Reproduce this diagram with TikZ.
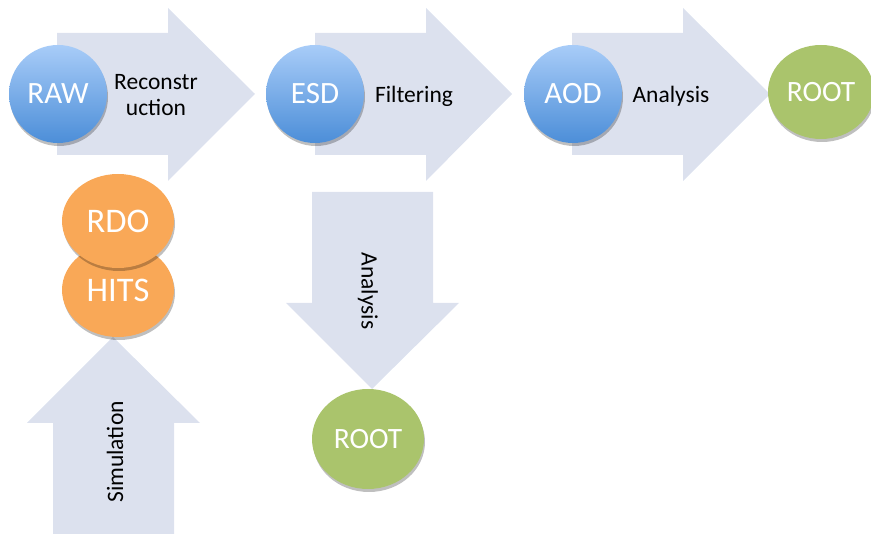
\documentclass[tikz,border=0pt]{standalone}
\usepackage{fontspec}
\setmainfont{Carlito}
\usetikzlibrary{shapes.geometric,shadows}
\definecolor{arrowfill}{RGB}{220,225,238}
\definecolor{blueTop}{RGB}{168,204,248}
\definecolor{blueBot}{RGB}{76,142,216}
\definecolor{orangeFill}{RGB}{249,168,87}
\definecolor{greenFill}{RGB}{170,196,108}
\tikzset{
  bigarrow/.style={fill=arrowfill, draw=none},
  blob/.style={ellipse, draw=none, inner sep=0pt, text=white,
    drop shadow={shadow xshift=1pt, shadow yshift=-3pt, opacity=0.25, fill=black}},
  bluedisc/.style={blob, top color=blueTop, bottom color=blueBot,
    minimum width=98pt, minimum height=98pt, font=\fontsize{31}{31}\selectfont},
  orangedisc/.style={blob, fill=orangeFill, minimum width=112pt, minimum height=94pt,
    font=\fontsize{34.5}{34.5}\selectfont},
  greendisc/.style={blob, fill=greenFill, font=\fontsize{29.5}{29.5}\selectfont},
  steplabel/.style={text=black, inner sep=0pt, align=center,
    font=\fontsize{23.5}{26}\selectfont},
}
\begin{document}
\begin{tikzpicture}[x=1pt,y=-1pt]
\useasboundingbox (0,0) rectangle (871,534);
% horizontal arrows
\path[bigarrow] (57,33) -- (168,33) -- (168,8) -- (255,94) -- (168,181) -- (168,155) -- (57,155) -- cycle;
\path[bigarrow] (315,33) -- (426,33) -- (426,8) -- (512,94) -- (426,181) -- (426,155) -- (315,155) -- cycle;
\path[bigarrow] (572,33) -- (683,33) -- (683,8) -- (770,94) -- (683,181) -- (683,155) -- (572,155) -- cycle;
% down arrow
\path[bigarrow] (312,192) -- (433,192) -- (433,303) -- (459,303) -- (372,389) -- (286,303) -- (312,303) -- cycle;
% up arrow
\path[bigarrow] (53,534) -- (53,423) -- (27,423) -- (113,337) -- (200,423) -- (174,423) -- (174,534) -- cycle;
% labels on arrows
\node[steplabel] (lrec) at (156,95) {Reconstr\\uction};
\node[steplabel] (lfil) at (414,96) {Filtering};
\node[steplabel] (lana) at (671,96) {Analysis};
\node[steplabel, rotate=-90] (lana2) at (368,291) {Analysis};
\node[steplabel, rotate=90] (lsim) at (115,452) {Simulation};
% discs
\node[bluedisc] (raw) at (58,94) {RAW};
\node[bluedisc] (esd) at (315,94) {ESD};
\node[bluedisc] (aod) at (573,94) {AOD};
\node[greendisc, minimum width=106pt, minimum height=94pt] (root1) at (821,92) {ROOT};
\node[greendisc, minimum width=112pt, minimum height=100pt] (root2) at (368,439) {ROOT};
\node[orangedisc] (hits) at (118,290) {HITS};
\node[orangedisc] (rdo) at (118,221) {RDO};
\end{tikzpicture}
\end{document}
